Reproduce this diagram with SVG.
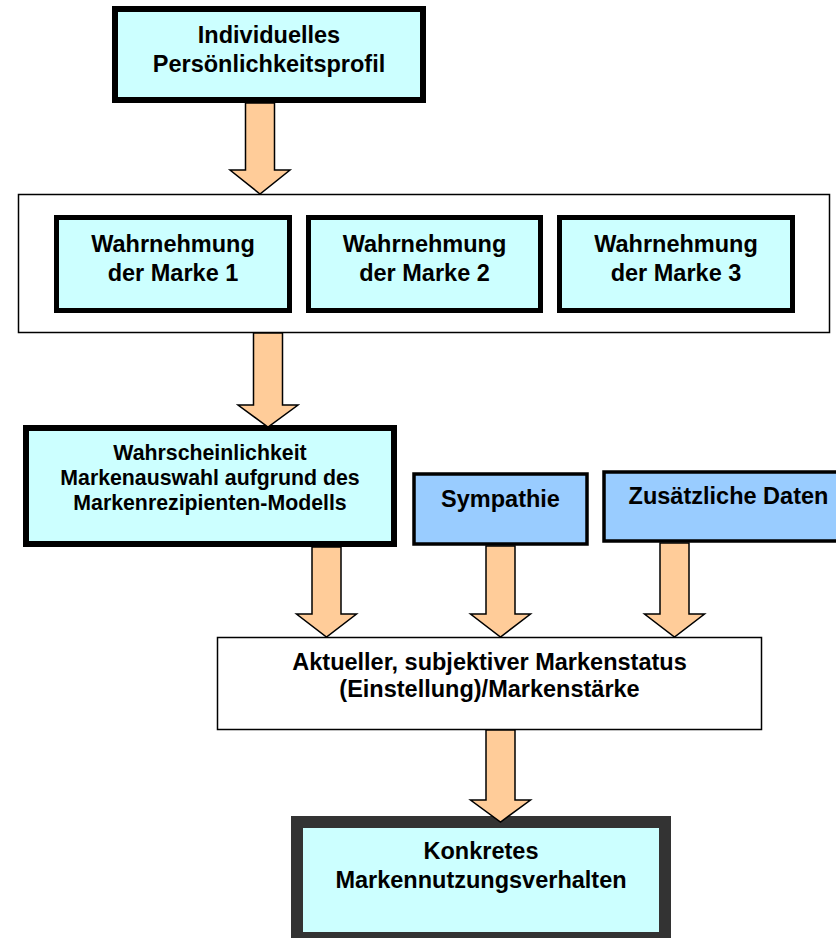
<svg xmlns="http://www.w3.org/2000/svg" width="836" height="938" viewBox="0 0 836 938">
<style>
text{font-family:"Liberation Sans",Arial,sans-serif;font-weight:bold;fill:#000;text-anchor:middle;font-size:23.5px}
.cyan{fill:#CCFFFF;stroke:#000}
.blue{fill:#99CCFF;stroke:#000;stroke-width:3.5}
.plain{fill:#fff;stroke:#000;stroke-width:1.5}
.arrow{fill:#FFCC99;stroke:#000;stroke-width:1.5;stroke-linejoin:miter}
</style>
<rect width="836" height="938" fill="#fff"/>
<g id="container">
<rect class="plain" x="18.5" y="194.5" width="811" height="138"/>
</g>
<g id="profil">
<rect class="cyan" stroke-width="6" x="115" y="9" width="308" height="91"/>
<text x="269" y="43">Individuelles</text>
<text x="269" y="72">Persönlichkeitsprofil</text>
</g>
<g id="marke1">
<rect class="cyan" stroke-width="5" x="56.5" y="217.5" width="233" height="93"/>
<text x="173" y="252">Wahrnehmung</text>
<text x="173" y="281">der Marke 1</text>
</g>
<g id="marke2">
<rect class="cyan" stroke-width="5" x="308.5" y="217.5" width="232" height="93"/>
<text x="424.5" y="252">Wahrnehmung</text>
<text x="424.5" y="281">der Marke 2</text>
</g>
<g id="marke3">
<rect class="cyan" stroke-width="5" x="559.5" y="217.5" width="233" height="93"/>
<text x="676" y="252">Wahrnehmung</text>
<text x="676" y="281">der Marke 3</text>
</g>
<g id="wahrscheinlichkeit">
<rect class="cyan" stroke-width="6" x="26" y="428" width="368" height="116"/>
<text x="210" y="460" style="font-size:21.3px">Wahrscheinlichkeit</text>
<text x="210" y="485" style="font-size:21.3px">Markenauswahl aufgrund des</text>
<text x="210" y="510" style="font-size:21.3px">Markenrezipienten-Modells</text>
</g>
<g id="sympathie">
<rect class="blue" x="414" y="474" width="173" height="70"/>
<text x="500.5" y="507">Sympathie</text>
</g>
<g id="zusatz">
<rect class="blue" x="604" y="472" width="250" height="69"/>
<text x="728.5" y="504">Zusätzliche Daten</text>
</g>
<g id="status">
<rect class="plain" x="217.5" y="637.5" width="544" height="92"/>
<text x="489.5" y="670">Aktueller, subjektiver Markenstatus</text>
<text x="489.5" y="697">(Einstellung)/Markenstärke</text>
</g>
<g id="verhalten">
<rect fill="#CCFFFF" stroke="#333" stroke-width="12" x="297" y="822" width="368" height="116"/>
<text x="481" y="859">Konkretes</text>
<text x="481" y="888">Markennutzungsverhalten</text>
</g>
<g id="connectors">
<polygon class="arrow" points="245.5,103 274.5,103 274.5,170 290,170 260,194 230,170 245.5,170"/>
<polygon class="arrow" points="253.5,333 282.5,333 282.5,405 298,405 268,427 238,405 253.5,405"/>
<polygon class="arrow" points="312,547 341,547 341,614 356.5,614 326.5,637 296.5,614 312,614"/>
<polygon class="arrow" points="486,546 515,546 515,614 530.5,614 500.5,637 470.5,614 486,614"/>
<polygon class="arrow" points="660,543 689,543 689,614 704.5,614 674.5,637 644.5,614 660,614"/>
<polygon class="arrow" points="486,730 515,730 515,800 530.5,800 500.5,822 470.5,800 486,800"/>
</g>
</svg>
